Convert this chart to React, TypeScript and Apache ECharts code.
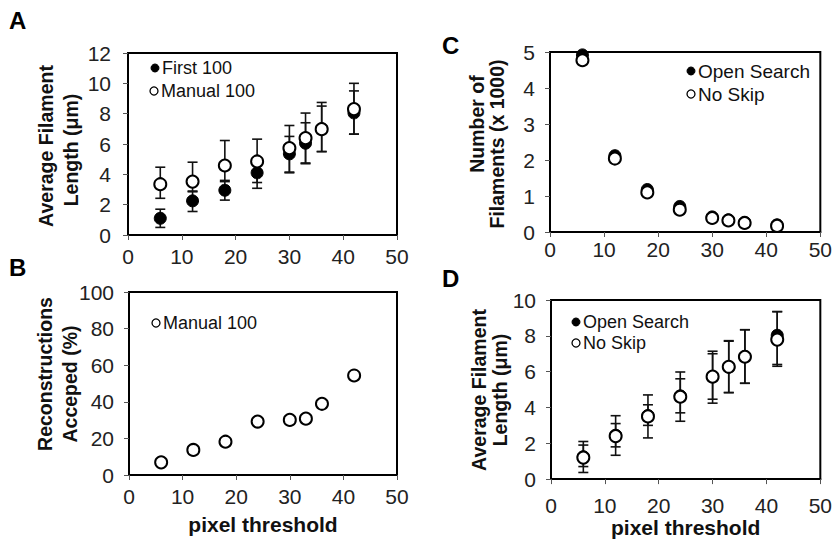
import React, { useEffect, useRef } from "react";
import * as echarts from "echarts";

// ---- data ----
const thresholds = [6, 12, 18, 24, 30, 33, 36, 42];

// Panel A
const aFirstMean = [1.1, 2.25, 2.95, 4.1, 5.35, 6.05, 7.0, 8.05];
const aFirstLow = [0.5, 1.55, 2.3, 3.08, 4.15, 4.7, 5.5, 6.65];
const aFirstHigh = [1.7, 2.9, 3.6, 5.1, 6.5, 7.4, 8.5, 9.5];
const aManualMean = [3.35, 3.52, 4.58, 4.85, 5.73, 6.39, 6.98, 8.3];
const aManualLow = [2.42, 2.85, 3.52, 3.46, 4.1, 4.75, 5.5, 6.65];
const aManualHigh = [4.47, 4.8, 6.23, 6.32, 7.22, 8.04, 8.74, 10.0];

// Panel B
const bManual = [6.9, 13.7, 18.2, 29.2, 30.1, 30.8, 38.9, 54.4];

// Panel C
const cOpenSearch = [4.92, 2.12, 1.18, 0.71, 0.42, 0.34, 0.27, 0.2];
const cNoSkip = [4.77, 2.04, 1.1, 0.62, 0.39, 0.32, 0.25, 0.17];

// Panel D
const dOpenMean = [1.25, 2.45, 3.55, 4.65, 5.72, 6.25, 6.85, 8.03];
const dOpenLow = [0.7, 1.8, 3.0, 3.7, 4.46, 4.83, 5.35, 6.3];
const dOpenHigh = [1.9, 3.1, 4.15, 5.6, 7.0, 7.7, 8.34, 9.35];
const dNoSkipMean = [1.2, 2.4, 3.5, 4.6, 5.72, 6.27, 6.83, 7.79];
const dNoSkipLow = [0.37, 1.33, 2.3, 3.23, 4.24, 4.83, 5.35, 6.4];
const dNoSkipHigh = [2.1, 3.54, 4.7, 5.98, 7.14, 7.73, 8.34, 9.35];

const FONT = "'Liberation Sans', Arial, sans-serif";
const INK = "#111";

function pts(ys: number[]) {
  return thresholds.map((x, i) => [x, ys[i]]);
}
function errs(lo: number[], hi: number[]) {
  return thresholds.map((x, i) => [x, lo[i], hi[i]]);
}

function errSeries(idx: number, lo: number[], hi: number[]) {
  return {
    type: "custom",
    xAxisIndex: idx,
    yAxisIndex: idx,
    z: 1,
    encode: { x: 0, y: [1, 2] },
    data: errs(lo, hi),
    renderItem: (_p: any, api: any) => {
      const x = api.value(0);
      const a = api.coord([x, api.value(1)]);
      const b = api.coord([x, api.value(2)]);
      const hw = 5;
      const st = { stroke: INK, lineWidth: 1.6 };
      return {
        type: "group",
        children: [
          { type: "line", shape: { x1: a[0], y1: a[1], x2: b[0], y2: b[1] }, style: st },
          { type: "line", shape: { x1: a[0] - hw, y1: a[1], x2: a[0] + hw, y2: a[1] }, style: st },
          { type: "line", shape: { x1: b[0] - hw, y1: b[1], x2: b[0] + hw, y2: b[1] }, style: st },
        ],
      };
    },
  };
}

function scat(idx: number, name: string, ys: number[], filled: boolean) {
  return {
    type: "scatter",
    name,
    xAxisIndex: idx,
    yAxisIndex: idx,
    z: 3,
    symbol: "circle",
    symbolSize: 12,
    itemStyle: filled
      ? { color: "#000", borderColor: "#000", borderWidth: 1, opacity: 1 }
      : { color: "#fff", borderColor: "#000", borderWidth: 2, opacity: 1 },
    emphasis: { disabled: true },
    data: pts(ys),
  };
}

function legendItem(x: number, y: number, label: string, filled: boolean, size = 18) {
  return [
    {
      type: "circle",
      shape: { cx: x, cy: y, r: 4 },
      style: filled
        ? { fill: "#000", stroke: "#000", lineWidth: 1 }
        : { fill: "#fff", stroke: "#000", lineWidth: 1.3 },
      z: 10,
    },
    {
      type: "text",
      x: x + 7,
      y: y,
      style: { text: label, font: `${size}px ${FONT}`, fill: INK, verticalAlign: "middle" },
      z: 10,
    },
  ];
}

function letter(x: number, y: number, t: string) {
  return {
    type: "text",
    x,
    y,
    style: { text: t, font: `bold 24px ${FONT}`, fill: "#000" },
  };
}

function yTitle(cx: number, cy: number, t: string) {
  return {
    type: "text",
    x: cx,
    y: cy,
    rotation: Math.PI / 2,
    style: {
      text: t,
      font: `bold 19.5px ${FONT}`,
      fill: INK,
      align: "center",
      verticalAlign: "middle",
    },
  };
}

export default function App() {
  const ref = useRef<HTMLDivElement>(null);
  useEffect(() => {
    if (!ref.current) return;
    const chart = echarts.init(ref.current, undefined, { renderer: "svg" });

    const grids = [
      { left: 128, top: 53, width: 269, height: 182 },
      { left: 129, top: 292, width: 268, height: 183 },
      { left: 550, top: 52, width: 275, height: 180 },
      { left: 551, top: 300, width: 274, height: 181 },
    ].map((g) => ({ ...g, show: true, borderColor: "#000", borderWidth: 2, backgroundColor: "transparent" }));

    const xLabelMargins = [11, 11, 7, 16];
    const xAxis = [0, 1, 2, 3].map((i) => ({
      type: "value",
      gridIndex: i,
      min: 0,
      max: 50,
      interval: 10,
      axisLine: { show: true, lineStyle: { color: "#000", width: 2 } },
      axisTick: { show: true, inside: false, length: 5, lineStyle: { color: "#555", width: 1 } },
      splitLine: { show: false },
      axisLabel: { fontSize: 21, color: "#222", fontFamily: FONT, margin: xLabelMargins[i] },
      name: i === 1 || i === 3 ? "pixel threshold" : "",
      nameLocation: "middle",
      nameGap: i === 1 ? 39 : 36,
      nameTextStyle: { fontSize: 21, fontWeight: "bold", color: INK, fontFamily: FONT, lineHeight: 20, verticalAlign: "top" },
    }));

    const yCfg = [
      { max: 12, interval: 2, margin: 17 },
      { max: 100, interval: 20, margin: 15 },
      { max: 5, interval: 1, margin: 15 },
      { max: 10, interval: 2, margin: 15 },
    ];
    const yAxis = yCfg.map((c, i) => ({
      type: "value",
      gridIndex: i,
      min: 0,
      max: c.max,
      interval: c.interval,
      axisLine: { show: true, lineStyle: { color: "#000", width: 2 } },
      axisTick: { show: true, inside: false, length: 5, lineStyle: { color: "#555", width: 1 } },
      splitLine: { show: false },
      axisLabel: { fontSize: 21, color: "#222", fontFamily: FONT, margin: c.margin },
    }));

    const series: any[] = [
      errSeries(0, aFirstLow, aFirstHigh),
      errSeries(0, aManualLow, aManualHigh),
      scat(0, "First 100", aFirstMean, true),
      scat(0, "Manual 100", aManualMean, false),
      scat(1, "Manual 100", bManual, false),
      scat(2, "Open Search", cOpenSearch, true),
      scat(2, "No Skip", cNoSkip, false),
      errSeries(3, dOpenLow, dOpenHigh),
      errSeries(3, dNoSkipLow, dNoSkipHigh),
      scat(3, "Open Search", dOpenMean, true),
      scat(3, "No Skip", dNoSkipMean, false),
    ];

    const graphic: any[] = [
      letter(9, 8, "A"),
      letter(9, 255, "B"),
      letter(442, 33, "C"),
      letter(442, 266, "D"),
      yTitle(46, 146, "Average Filament"),
      yTitle(71, 150, "Length (\u03bcm)"),
      yTitle(45, 374, "Reconstructions"),
      yTitle(70, 384, "Acceped (%)"),
      yTitle(477, 124, "Number of"),
      yTitle(497, 144, "Filaments (x 1000)"),
      yTitle(479, 390, "Average Filament"),
      yTitle(500, 390, "Length (\u03bcm)"),
      ...legendItem(155, 68, "First 100", true),
      ...legendItem(154, 91, "Manual 100", false),
      ...legendItem(156, 323, "Manual 100", false),
      ...legendItem(691, 71, "Open Search", true, 19),
      ...legendItem(691, 94, "No Skip", false, 19),
      ...legendItem(576, 322, "Open Search", true),
      ...legendItem(576, 343, "No Skip", false),
    ];

    chart.setOption({
      animation: false,
      backgroundColor: "#fff",
      textStyle: { fontFamily: FONT },
      grid: grids,
      xAxis,
      yAxis,
      series,
      graphic,
    });
    return () => chart.dispose();
  }, []);

  return (
    <div
      ref={ref}
      style={{ position: "absolute", left: 0, top: 0, width: 835, height: 539 }}
    />
  );
}
